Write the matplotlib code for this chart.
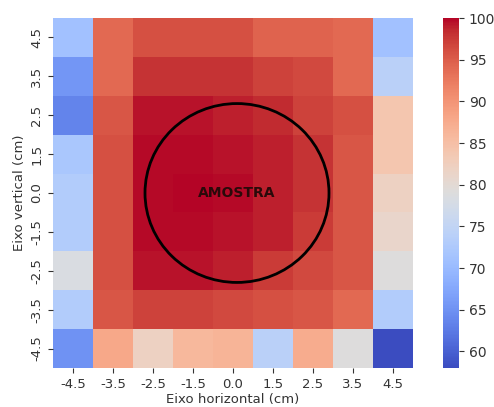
import numpy as np
import matplotlib
matplotlib.use("Agg")
import matplotlib.pyplot as plt
import seaborn as sns
from matplotlib.patches import Circle

# posições (cm)
x_labels = ["-4.5", "-3.5", "-2.5", "-1.5", "0.0", "1.5", "2.5", "3.5", "4.5"]
y_labels = ["4.5", "3.5", "2.5", "1.5", "0.0", "-1.5", "-2.5", "-3.5", "-4.5"]

# valores (linha de cima para baixo)
row_45 = [71.0, 94.0, 96.0, 96.0, 96.0, 94.5, 94.5, 94.0, 71.0]
row_35 = [65.5, 94.0, 98.0, 98.0, 98.0, 97.0, 96.5, 94.0, 74.0]
row_25 = [63.5, 95.5, 99.5, 99.5, 99.0, 98.5, 97.0, 96.0, 84.0]
row_15 = [72.0, 96.0, 99.8, 99.8, 99.5, 99.0, 98.0, 95.5, 84.0]
row_00 = [73.0, 96.0, 99.8, 100.0, 99.8, 99.0, 98.0, 95.5, 82.0]
row_m15 = [73.0, 96.0, 99.8, 99.8, 99.5, 99.0, 97.5, 95.5, 81.0]
row_m25 = [78.5, 96.0, 99.5, 99.5, 99.0, 97.5, 96.5, 95.5, 79.0]
row_m35 = [73.0, 95.5, 97.0, 97.0, 96.5, 96.0, 95.5, 94.0, 73.0]
row_m45 = [65.0, 88.0, 82.0, 86.0, 86.5, 74.0, 87.5, 79.0, 58.0]

data = np.array([row_45, row_35, row_25, row_15, row_00,
                 row_m15, row_m25, row_m35, row_m45])

fig = plt.figure(figsize=(4.94, 4.07), dpi=100)
W, H = 494, 407
ax = fig.add_axes([53 / W, (H - 368) / H, 360 / W, 350 / H])
cax = fig.add_axes([443 / W, (H - 368) / H, 16 / W, 350 / H])

sns.heatmap(data, cmap="coolwarm", vmin=data.min(), vmax=100,
            xticklabels=x_labels, yticklabels=y_labels,
            ax=ax, cbar_ax=cax)

ax.tick_params(axis="y", rotation=90, labelsize=9.5, colors="#333333")
ax.tick_params(axis="x", rotation=0, labelsize=9.5, colors="#333333")
for lab in ax.get_yticklabels():
    lab.set_va("center")
ax.set_xlabel("Eixo horizontal (cm)", fontsize=9.5, labelpad=2, color="#333333")
ax.set_ylabel("Eixo vertical (cm)", fontsize=9.5, labelpad=3, color="#333333")

# amostra
ax.add_patch(Circle((4.6, 4.5), 2.3, fill=False, edgecolor="black", lw=2))
ax.text(4.6, 4.5, "AMOSTRA", ha="center", va="center",
        fontsize=10, fontweight="bold", color="#2a0a0a")

cbar = ax.collections[0].colorbar
cbar.set_ticks([60, 65, 70, 75, 80, 85, 90, 95, 100])
cbar.ax.tick_params(labelsize=10, colors="#333333")

plt.savefig("out.png", dpi=100)
